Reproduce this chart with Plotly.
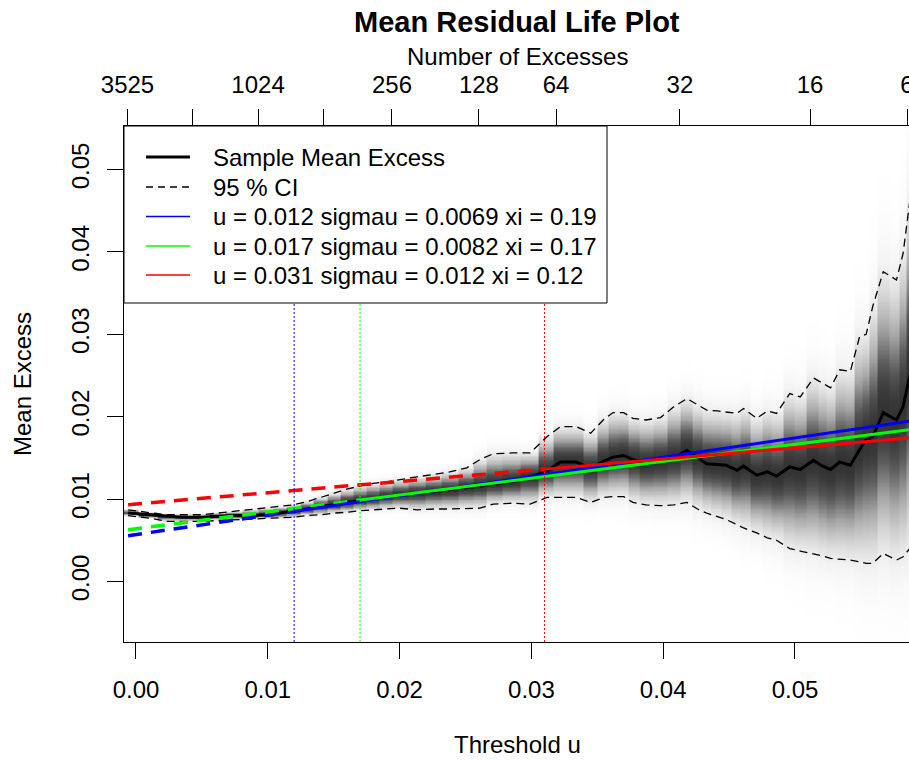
import numpy as np
import plotly.graph_objects as go

# ---------------- data ----------------
thresholds = [-0.0006, 0.0010, 0.0023, 0.0035, 0.0049, 0.0062, 0.0074, 0.0087, 0.0099, 0.0109,
              0.0119, 0.0130, 0.0140, 0.0150, 0.0160, 0.0170, 0.0180, 0.0190, 0.0200, 0.0213,
              0.0226, 0.0238, 0.0251, 0.0261, 0.0271, 0.0285, 0.0299, 0.0312, 0.0322, 0.0334,
              0.0345, 0.0355, 0.0362, 0.0370, 0.0377, 0.0387, 0.0398, 0.0408, 0.0418, 0.0426,
              0.0433, 0.0441, 0.0448, 0.0456, 0.0461, 0.0471, 0.0479, 0.0486, 0.0496, 0.0504,
              0.0514, 0.0521, 0.0527, 0.0534, 0.0542, 0.0549, 0.0554, 0.0559, 0.0567, 0.0577,
              0.0582, 0.0587]

mean_excess = [0.0083, 0.0081, 0.0079, 0.0078, 0.0078, 0.0079, 0.0080, 0.0080, 0.0081, 0.0083,
               0.0085, 0.0088, 0.0091, 0.0093, 0.0096, 0.0098, 0.0100, 0.0103, 0.0105, 0.0107,
               0.0109, 0.0111, 0.0114, 0.0116, 0.0118, 0.0121, 0.0127, 0.0134, 0.0145, 0.0145,
               0.0137, 0.0146, 0.0151, 0.0153, 0.0148, 0.0143, 0.0146, 0.0150, 0.0159, 0.0150,
               0.0143, 0.0142, 0.0141, 0.0135, 0.0140, 0.0129, 0.0133, 0.0128, 0.0139, 0.0136,
               0.0147, 0.0140, 0.0136, 0.0145, 0.0141, 0.0160, 0.0172, 0.0176, 0.0205, 0.0196,
               0.0212, 0.0250]

ci_upper = [0.0087, 0.0084, 0.0081, 0.0081, 0.0081, 0.0083, 0.0085, 0.0087, 0.0089, 0.0091,
            0.0093, 0.0097, 0.0102, 0.0107, 0.0112, 0.0116, 0.0119, 0.0121, 0.0124, 0.0127,
            0.0130, 0.0133, 0.0138, 0.0148, 0.0155, 0.0156, 0.0156, 0.0176, 0.0188, 0.0188,
            0.0180, 0.0197, 0.0205, 0.0205, 0.0198, 0.0196, 0.0199, 0.0212, 0.0222, 0.0214,
            0.0208, 0.0207, 0.0206, 0.0204, 0.0210, 0.0198, 0.0207, 0.0204, 0.0228, 0.0224,
            0.0247, 0.0240, 0.0235, 0.0257, 0.0255, 0.0297, 0.0300, 0.0334, 0.0376, 0.0366,
            0.0398, 0.0460]

ci_lower = [0.0080, 0.0077, 0.0073, 0.0073, 0.0073, 0.0074, 0.0075, 0.0076, 0.0077, 0.0077,
            0.0078, 0.0080, 0.0081, 0.0083, 0.0084, 0.0086, 0.0087, 0.0088, 0.0089, 0.0087,
            0.0088, 0.0088, 0.0089, 0.0089, 0.0094, 0.0095, 0.0094, 0.0102, 0.0102, 0.0102,
            0.0096, 0.0102, 0.0103, 0.0103, 0.0096, 0.0093, 0.0092, 0.0093, 0.0096, 0.0088,
            0.0083, 0.0079, 0.0075, 0.0069, 0.0065, 0.0059, 0.0053, 0.0050, 0.0040, 0.0037,
            0.0034, 0.0031, 0.0028, 0.0027, 0.0026, 0.0024, 0.0022, 0.0022, 0.0034, 0.0026,
            0.0030, 0.0040]

fit_u = [0.012, 0.017, 0.031]
fit_labels = ["u = 0.012 sigmau = 0.0069 xi = 0.19",
              "u = 0.017 sigmau = 0.0082 xi = 0.17",
              "u = 0.031 sigmau = 0.012 xi = 0.12"]
fit_colors = ["#0000FF", "#00FF00", "#FF0000"]
fit_at_start = [0.00556, 0.00628, 0.00933]   # fitted mean excess at first threshold
fit_at_u = [0.00852, 0.00988, 0.01364]       # at the chosen threshold
fit_at_end = [0.01947, 0.01842, 0.01741]     # at the last threshold

x_ticks = [0.00, 0.01, 0.02, 0.03, 0.04, 0.05]
x_tick_text = ["0.00", "0.01", "0.02", "0.03", "0.04", "0.05"]
y_ticks = [0.00, 0.01, 0.02, 0.03, 0.04, 0.05]
y_tick_text = ["0.00", "0.01", "0.02", "0.03", "0.04", "0.05"]
top_tick_u = [-0.000645, 0.00425, 0.00926, 0.01419, 0.01942, 0.02602, 0.03187, 0.04127, 0.05114, 0.0585]
top_tick_text = ["3525", "", "1024", "", "256", "128", "64", "32", "16", "6"]

legend_labels = ["Sample Mean Excess", "95 % CI"] + fit_labels
legend_colors = ["black", "black"] + fit_colors
legend_widths = [3, 1.3, 1.5, 1.5, 1.5]
legend_dashes = ["solid", "7px,5px", "solid", "solid", "solid"]

# ---------------- geometry ----------------
W, H = 909, 760
L, R, T, B = 124, 0, 126, 118
X_RANGE = [-0.00091, 0.05865]
Y_RANGE = [-0.00734, 0.05528]
FONT = "Arial, 'Liberation Sans', sans-serif"

pw = W - L - R
ph = H - T - B


def px_to_paper_x(px):
    return (px - L) / pw


def px_to_paper_y(py):
    return (H - B - py) / ph


fig = go.Figure()

# grey-scale sampling density behind the CI
me = np.array(mean_excess)
up = np.array(ci_upper)
lo = np.array(ci_lower)
ygrid = np.linspace(Y_RANGE[0], Y_RANGE[1], 400)
sd_up = np.maximum((up - me) / 1.96, 1e-5)
sd_lo = np.maximum((me - lo) / 1.96, 1e-5)
dy = ygrid[:, None] - me[None, :]
sd = np.where(dy >= 0, sd_up[None, :], sd_lo[None, :])
z = np.exp(-0.5 * (dy / sd) ** 2)
fig.add_trace(go.Heatmap(x=thresholds, y=ygrid, z=z, zmin=0, zmax=1,
                         colorscale=[[0, "#ffffff"], [0.12, "#f2f2f2"], [0.5, "#a6a6a6"],
                                     [0.8, "#5a5a5a"], [1, "#333333"]],
                         showscale=False, hoverinfo="skip"))

# CI lines
for ci in (ci_upper, ci_lower):
    fig.add_trace(go.Scatter(x=thresholds, y=ci, mode="lines",
                             line=dict(color="black", width=1.3, dash="8px,5px"), showlegend=False))
# sample mean excess
fig.add_trace(go.Scatter(x=thresholds, y=mean_excess, mode="lines",
                         line=dict(color="black", width=3), showlegend=False))

# fitted lines: dashed below threshold, solid above
for i in range(3):
    fig.add_trace(go.Scatter(x=[thresholds[0], fit_u[i]], y=[fit_at_start[i], fit_at_u[i]],
                             mode="lines", line=dict(color=fit_colors[i], width=3.5, dash="14px,9px"),
                             showlegend=False))
for i in range(3):
    fig.add_trace(go.Scatter(x=[fit_u[i], thresholds[-1]], y=[fit_at_u[i], fit_at_end[i]],
                             mode="lines", line=dict(color=fit_colors[i], width=3),
                             showlegend=False))

# vertical threshold markers
for i in range(3):
    fig.add_shape(type="line", xref="x", yref="paper", x0=fit_u[i], x1=fit_u[i], y0=0, y1=1,
                  line=dict(color=fit_colors[i], width=1, dash="2px,2px"), layer="above")

# legend box (R-style legend)
LEG_LEFT, LEG_RIGHT, LEG_TOP, LEG_BOTTOM = 124, 607, 126, 303
LEG_ROWS = [157, 187, 216.5, 246, 275]
LEG_LINE_X = (146, 190)
LEG_TEXT_X = 211
fig.add_shape(type="rect", xref="paper", yref="paper",
              x0=px_to_paper_x(LEG_LEFT), x1=px_to_paper_x(LEG_RIGHT),
              y0=px_to_paper_y(LEG_BOTTOM), y1=px_to_paper_y(LEG_TOP),
              fillcolor="white", line=dict(color="black", width=1), layer="above")
for k, lab in enumerate(legend_labels):
    yk = px_to_paper_y(LEG_ROWS[k])
    fig.add_shape(type="line", xref="paper", yref="paper",
                  x0=px_to_paper_x(LEG_LINE_X[0]), x1=px_to_paper_x(LEG_LINE_X[1]), y0=yk, y1=yk,
                  line=dict(color=legend_colors[k], width=legend_widths[k], dash=legend_dashes[k]),
                  layer="above")
    fig.add_annotation(text=lab, xref="paper", yref="paper", x=px_to_paper_x(LEG_TEXT_X), y=yk,
                       showarrow=False, xanchor="left", yanchor="middle",
                       font=dict(size=24, family=FONT, color="black"))

axis_common = dict(showgrid=False, zeroline=False, ticks="outside", ticklen=16, automargin=False,
                   tickcolor="black", tickwidth=1, tickfont=dict(size=24, color="black", family=FONT))

fig.update_layout(
    width=W, height=H,
    margin=dict(l=L, r=R, t=T, b=B, pad=0, autoexpand=False),
    paper_bgcolor="white", plot_bgcolor="white",
    font=dict(family=FONT, size=24, color="black"),
    xaxis=dict(range=X_RANGE, tickvals=x_ticks, ticktext=x_tick_text,
               showline=True, linecolor="black", linewidth=1, mirror=True,
               ticklabelstandoff=10, **axis_common),
    xaxis2=dict(range=X_RANGE, overlaying="x", side="top", tickvals=top_tick_u,
                ticktext=top_tick_text, showline=False, ticklabelstandoff=6,
                ticklabeloverflow="allow", **axis_common),
    yaxis=dict(range=Y_RANGE, tickvals=y_ticks, ticktext=y_tick_text, tickangle=-90,
               showline=True, linecolor="black", linewidth=1, mirror=False,
               ticklabelstandoff=8, **axis_common),
    showlegend=False,
)
# invisible trace to activate the top axis
fig.add_trace(go.Scatter(x=[None], y=[None], xaxis="x2", showlegend=False, hoverinfo="skip"))

fig.add_annotation(text="<b>Mean Residual Life Plot</b>", xref="paper", yref="paper",
                   x=px_to_paper_x(517), y=px_to_paper_y(21.5), showarrow=False,
                   xanchor="center", yanchor="middle", font=dict(size=29, family=FONT))
fig.add_annotation(text="Number of Excesses", xref="paper", yref="paper",
                   x=px_to_paper_x(517), y=px_to_paper_y(56.5), showarrow=False,
                   xanchor="center", yanchor="middle", font=dict(size=24, family=FONT))
fig.add_annotation(text="Threshold u", xref="paper", yref="paper",
                   x=px_to_paper_x(517), y=px_to_paper_y(744), showarrow=False,
                   xanchor="center", yanchor="middle", font=dict(size=24, family=FONT))
fig.add_annotation(text="Mean Excess", xref="paper", yref="paper", textangle=-90,
                   x=px_to_paper_x(22), y=px_to_paper_y(384), showarrow=False,
                   xanchor="center", yanchor="middle", font=dict(size=24, family=FONT))

fig.write_html("out.html")
